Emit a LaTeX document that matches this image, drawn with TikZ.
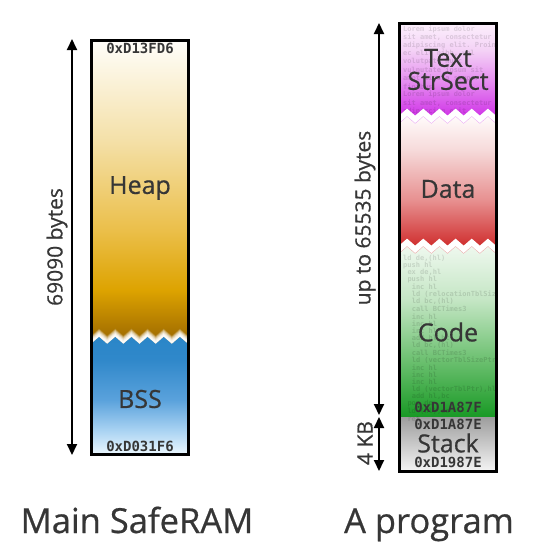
\documentclass[tikz,border=0pt]{standalone}
\usepackage{fontspec}
\setmainfont{Open Sans}
\setmonofont{DejaVu Sans Mono}
\newfontfamily\semifont{Open Sans}[FakeBold=0.6]
\usetikzlibrary{arrows.meta}

\definecolor{ink}{HTML}{363636}
\definecolor{heapA}{HTML}{FFFEFA}\definecolor{heapB}{HTML}{F4E0A8}\definecolor{heapC}{HTML}{EBBF4A}
\definecolor{heapD}{HTML}{DDA300}\definecolor{heapE}{HTML}{9A6600}
\definecolor{bssA}{HTML}{2A86C8}\definecolor{bssB}{HTML}{3088CA}\definecolor{bssC}{HTML}{5AA2DC}
\definecolor{bssD}{HTML}{A8D2F2}\definecolor{bssE}{HTML}{EAF6FE}
\definecolor{txtA}{HTML}{FCF0FC}\definecolor{txtB}{HTML}{F4D2F6}\definecolor{txtC}{HTML}{E690F0}\definecolor{txtD}{HTML}{CC22E6}
\definecolor{datA}{HTML}{FFFAFA}\definecolor{datB}{HTML}{F6DADA}\definecolor{datC}{HTML}{E79090}\definecolor{datD}{HTML}{CC1F1F}
\definecolor{codA}{HTML}{EEF8EE}\definecolor{codB}{HTML}{C4E6C4}\definecolor{codC}{HTML}{6CC070}\definecolor{codD}{HTML}{1A9A26}
\definecolor{stkA}{HTML}{9C9C9C}\definecolor{stkB}{HTML}{F4F4F4}

% 25bp = bottom of the shaded path, 75bp = top
\pgfdeclareverticalshading{heapshade}{100bp}{color(0bp)=(heapE); color(25bp)=(heapE); color(33.8bp)=(heapD); color(43.7bp)=(heapC); color(58.5bp)=(heapB); color(75bp)=(heapA); color(100bp)=(heapA)}
\pgfdeclareverticalshading{bssshade}{100bp}{color(0bp)=(bssE); color(25bp)=(bssE); color(35.2bp)=(bssD); color(47.9bp)=(bssC); color(64.8bp)=(bssB); color(75bp)=(bssA); color(100bp)=(bssA)}
\pgfdeclareverticalshading{textshade}{100bp}{color(0bp)=(txtD); color(25bp)=(txtD); color(46.6bp)=(txtC); color(61.6bp)=(txtB); color(75bp)=(txtA); color(100bp)=(txtA)}
\pgfdeclareverticalshading{datashade}{100bp}{color(0bp)=(datD); color(25bp)=(datD); color(44.5bp)=(datC); color(62.8bp)=(datB); color(75bp)=(datA); color(100bp)=(datA)}
\pgfdeclareverticalshading{codeshade}{100bp}{color(0bp)=(codD); color(25bp)=(codD); color(41.5bp)=(codC); color(59.2bp)=(codB); color(75bp)=(codA); color(100bp)=(codA)}

\begin{document}
\begin{tikzpicture}[x=1pt, y=-1pt,
    partname/.style={text=ink, font=\semifont\fontsize{25}{23}\selectfont, align=center},
    addr/.style={text=ink, font=\ttfamily\bfseries\fontsize{14}{14}\selectfont},
    faint/.style={anchor=west, inner sep=0pt, text=black, text opacity=0.12, font=\ttfamily\bfseries\fontsize{7}{7}\selectfont},
    dim/.style={line width=2pt, {Triangle[width=10pt,length=11pt]}-{Triangle[width=10pt,length=11pt]}},
    sidelabel/.style={text=ink, font=\semifont\fontsize{21}{21}\selectfont, rotate=90},
    heading/.style={text=ink, font=\semifont\fontsize{34.5}{36}\selectfont, anchor=base},
    boxline/.style={line width=3pt},
    glow/.style={white, line width=1.3pt},
    zigzag/.style 2 args={insert path={\foreach \k in {1,...,12}{ -- ({#1+\k*97/12},{#2+3.5*cos(180*\k)})}}}]
\useasboundingbox (0,0) rectangle (547,546);

% Main SafeRAM
\shade[shading=bssshade] (91,336) rectangle (188,454);
\shade[shading=heapshade] (188,40) -- (91,40) -- (91,343.5) [zigzag={91}{340}] -- cycle;
\begin{scope}
  \clip (91,40) rectangle (188,454);
  \foreach \d [evaluate=\d as \op using 1-\d/8] in {0.6,1.4,...,7.0}
    \draw[glow, opacity=\op] (91,{343.5-\d}) [zigzag={91}{340-\d}];
\end{scope}
\draw[boxline] (91,40) rectangle (188,454);
\node[addr] (ramtop) at (140,48) {0xD13FD6};
\node[addr] (rambot) at (140,446) {0xD031F6};
\node[partname] (heap) at (140,188) {Heap};
\node[partname] (bss) at (140,399) {BSS};

% A program
\shade[top color=stkA, bottom color=stkB] (399,416) rectangle (496,471);
\shade[shading=codeshade] (399,246.5) rectangle (496,416);
\shade[shading=datashade] (496,116.5) -- (399,116.5) -- (399,253.5) [zigzag={399}{250}] -- cycle;
\shade[shading=textshade] (496,23) -- (399,23) -- (399,123.5) [zigzag={399}{120}] -- cycle;
\begin{scope}
  \clip (399,23) rectangle (496,471);
  \foreach \ln [count=\i] in {Lorem ipsum dolor, {sit amet, consectetur}, adipiscing elit. Proin,
      {ec elit nibh, vel}, volutpat. Nunc, vulputate ipsum sit, amet ligula semper, finibus.,
      Lorem ipsum dolor, {sit amet, consectetur}, adipiscing elit.}
    \node[faint] (lorem\i) at (403,{29+8.2*(\i-1)}) {\ln};
  \foreach \ind/\ln [count=\i] in {0/{ld de,(hl)}, 0/push hl, 1/{ex de,hl}, 1/push hl, 2/inc hl,
      2/{ld (relocationTblSize),hl}, 2/{ld bc,(hl)}, 2/call BCTimes3, 2/inc hl, 2/inc hl, 2/inc hl,
      2/{add hl,bc}, 2/{ld bc,(hl)}, 2/call BCTimes3, 2/{ld (vectorTblSizePtr),hl}, 2/inc hl,
      2/inc hl, 2/inc hl, 2/{ld (vectorTblPtr),hl}, 2/{add hl,bc}, 1/pop de, 1/{ld (hl),de}, 1/ret}
    \node[faint] (code\i) at ({403+4.3*\ind},{258+7.3*(\i-1)}) {\ln};
  \foreach \yb in {120,250}
    \foreach \d [evaluate=\d as \op using 1-\d/8] in {0.6,1.4,...,7.0}
      \draw[glow, opacity=\op] (399,{\yb+3.5-\d}) [zigzag={399}{\yb-\d}];
\end{scope}
\draw[boxline] (399,23) rectangle (496,471);
\node[partname] (text) at (448,69.5) {Text\\StrSect};
\node[partname] (data) at (448,189) {Data};
\node[partname] (code) at (448,332) {Code};
\node[partname] (stack) at (448,443) {Stack};
\node[addr] (codeend) at (448,407) {0xD1A87F};
\node[addr] (stacktop) at (448,424) {0xD1A87E};
\node[addr] (stackbot) at (448,462) {0xD1987E};

% size arrows
\coordinate (ramhi) at (72,39);
\coordinate (ramlo) at (72,455);
\coordinate (proghi) at (379,23);
\coordinate (progmid) at (379,415);
\coordinate (stackhi) at (379,417);
\coordinate (stacklo) at (379,471);
\draw[dim] (ramhi) -- (ramlo);
\draw[dim] (proghi) -- (progmid);
\draw[dim] (stackhi) -- (stacklo);
\node[sidelabel] (ramsize) at (57,247) {69090 bytes};
\node[sidelabel] (progsize) at (365,218) {up to 65535 bytes};
\node[sidelabel] (stacksize) at (365,443) {4 KB};

\node[heading] (ramtitle) at (137,533) {Main SafeRAM};
\node[heading] (progtitle) at (429,533) {A program};
\end{tikzpicture}
\end{document}
